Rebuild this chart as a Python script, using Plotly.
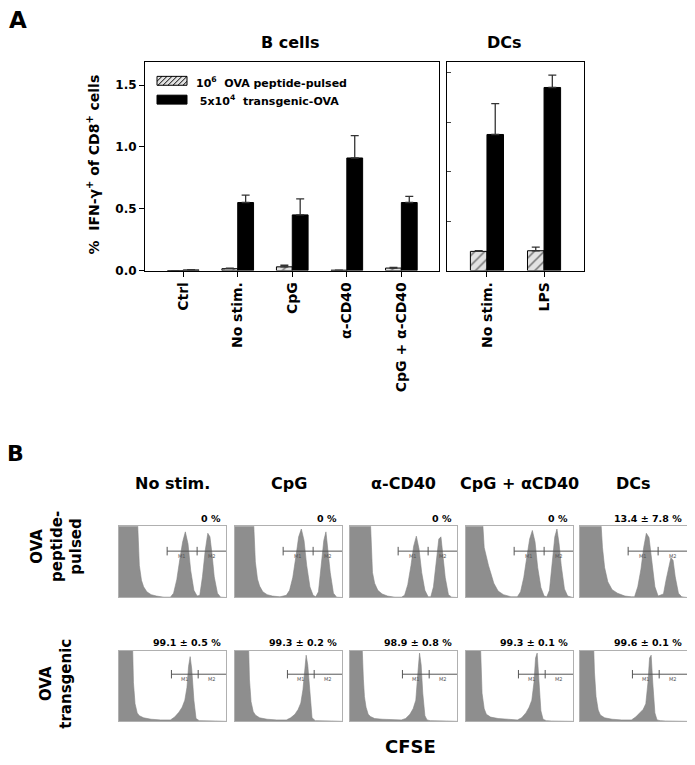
import plotly.graph_objects as go

# page body has an 8px margin: map reference pixels into the figure accordingly
OFF = 8
W, H = 695 - OFF, 765 - OFF
def X(p): return min(1.0, max(0.0, (p - OFF) / W))
def Y(p): return min(1.0, max(0.0, 1 - (p - OFF) / H))

FONT = "DejaVu Sans, Arial, sans-serif"

# ---------------- Panel A data ----------------
b_categories = ["Ctrl", "No stim.", "CpG", "α-CD40", "CpG + α-CD40"]
b_peptide = [0.0, 0.015, 0.03, 0.003, 0.02]
b_peptide_err = [0.0, 0.005, 0.013, 0.0, 0.005]
b_transgenic = [0.005, 0.55, 0.45, 0.91, 0.55]
b_transgenic_err = [0.002, 0.06, 0.13, 0.18, 0.05]

dc_categories = ["No stim.", "LPS"]
dc_peptide = [0.155, 0.16]
dc_peptide_err = [0.005, 0.03]
dc_transgenic = [1.10, 1.48]
dc_transgenic_err = [0.25, 0.10]

legend_labels = ["10<sup>6</sup>  OVA peptide-pulsed", " 5x10<sup>4</sup>  transgenic-OVA"]
y_ticks = [0.0, 0.5, 1.0, 1.5]
dc_y_ticks = [0.4, 0.8, 1.2, 1.6]

# ---------------- Panel B data ----------------
col_titles = ["No stim.", "CpG", "α-CD40", "CpG + αCD40", "DCs"]
row1_pct = ["0 %", "0 %", "0 %", "0 %", "13.4 ± 7.8 %"]
row2_pct = ["99.1 ± 0.5 %", "99.3 ± 0.2 %", "98.9 ± 0.8 %", "99.3 ± 0.1 %", "99.6 ± 0.1 %"]

hist_x_row1 = [0, 15, 17, 19, 21, 23, 26, 30, 35, 42, 48, 51, 54, 57, 59.5, 62, 64.5, 67, 70, 73,
               75.5, 78, 80.5, 83, 85, 87, 89, 92, 95, 100]
hist_r1_nostim = [120, 120, 120, 45, 24, 15, 8, 4, 2, 0.5, 0.5, 6, 25, 55, 78, 92, 75, 38, 10, 2,
                  3, 29, 65, 90, 85, 60, 29, 6, 0.5, 0]
hist_r1_cpg = [120, 120, 120, 50, 26, 16, 8, 4, 2, 1, 3, 10, 28, 58, 85, 96, 80, 45, 15, 3,
               1, 8, 40, 80, 92, 65, 35, 6, 0.5, 0]
hist_r1_cd40 = [120, 120, 120, 110, 35, 20, 10, 5, 2, 0.5, 0.5, 3, 18, 45, 72, 86, 68, 35, 10, 1,
                1, 15, 50, 82, 85, 55, 28, 4, 0.5, 0]
hist_r1_cpgcd40 = [120, 120, 70, 55, 45, 35, 20, 9, 4, 1, 1, 8, 28, 58, 82, 94, 78, 42, 14, 2,
                   1, 10, 45, 85, 96, 75, 45, 12, 2, 0]
hist_r1_dcs = [120, 120, 120, 120, 70, 42, 22, 11, 6, 2, 1, 1, 15, 40, 70, 90, 84, 50, 15, 2,
               3, 5, 25, 45, 56, 52, 29, 6, 1, 0]

hist_x_row2 = [0, 11, 12.5, 13.5, 15, 17, 19, 23, 30, 39, 48, 52, 56, 59, 61.5, 63.5, 65, 66.5, 68,
               70, 72, 75, 80, 90, 100]
hist_r2_nostim = [120, 120, 120, 55, 25, 12, 8, 5, 3, 2, 2, 6, 13, 20, 30, 48, 78, 92, 74,
                  30, 4, 1, 0.5, 0.5, 0]
hist_r2_cpg = [120, 120, 120, 60, 28, 14, 9, 5, 3, 2, 2, 5, 10, 17, 26, 45, 75, 94, 80,
               35, 5, 1, 0.5, 0.5, 0]
hist_r2_cd40 = [120, 120, 60, 35, 20, 10, 7, 4, 3, 2, 2, 4, 10, 18, 30, 70, 97, 80, 40,
                8, 2, 1, 0.5, 0.5, 0]
hist_r2_cpgcd40 = [120, 120, 120, 110, 40, 18, 10, 6, 4, 3, 2, 5, 12, 20, 30, 55, 90, 97, 60,
                   15, 3, 1, 0.5, 0.5, 0]
hist_r2_dcs = [120, 120, 120, 70, 35, 16, 9, 5, 3, 2, 2, 6, 12, 17, 25, 55, 90, 94, 55,
               12, 2, 1, 0.5, 0.5, 0]

row1_hists = [hist_r1_nostim, hist_r1_cpg, hist_r1_cd40, hist_r1_cpgcd40, hist_r1_dcs]
row2_hists = [hist_r2_nostim, hist_r2_cpg, hist_r2_cd40, hist_r2_cpgcd40, hist_r2_dcs]

# gate markers (x start, divider, y level) per row
gate_row1 = [45, 73, 65]
gate_row2 = [49, 74, 67]

# ---------------- Figure ----------------
fig = go.Figure()

HATCH = dict(shape="/", fgcolor="black", bgcolor="#e2e2e2", size=7, solidity=0.22)
err_style = dict(type="data", symmetric=False, color="#333333", thickness=1.3, width=4)

def add_bars(cats, pep, pep_err, tg, tg_err, xa, ya):
    fig.add_trace(go.Bar(x=cats, y=pep, xaxis=xa, yaxis=ya, showlegend=False,
                         marker=dict(color="#e2e2e2", pattern=HATCH, line=dict(color="black", width=1)),
                         error_y=dict(array=pep_err, arrayminus=[0] * len(pep), **err_style)))
    fig.add_trace(go.Bar(x=cats, y=tg, xaxis=xa, yaxis=ya, showlegend=False,
                         marker=dict(color="black", line=dict(color="black", width=1)),
                         error_y=dict(array=tg_err, arrayminus=[0] * len(tg), **err_style)))

add_bars(b_categories, b_peptide, b_peptide_err, b_transgenic, b_transgenic_err, "x", "y")
add_bars(dc_categories, dc_peptide, dc_peptide_err, dc_transgenic, dc_transgenic_err, "x2", "y2")

yA = [Y(273), Y(62)]
tickfont = dict(family=FONT, size=14, color="black", weight="bold")
layout = dict(
    width=W, height=H, margin=dict(l=0, r=0, t=0, b=0),
    paper_bgcolor="white", plot_bgcolor="white",
    barmode="group", bargap=0.42, bargroupgap=0,
    showlegend=False,
    xaxis=dict(domain=[X(145), X(439)], type="category", range=[-0.7, 4.69], anchor="y",
               tickangle=-90, ticks="outside", ticklen=5, tickcolor="black",
               showline=True, mirror=True, linecolor="black", linewidth=1,
               tickfont=tickfont, showgrid=False),
    yaxis=dict(domain=yA, range=[0, 1.69], anchor="x", tickvals=y_ticks,
               ticktext=[f"{v:.1f}" for v in y_ticks], ticks="outside", ticklen=5, tickcolor="black",
               showline=True, mirror=True, linecolor="black", linewidth=1, showgrid=False,
               zeroline=False, tickfont=dict(family=FONT, size=12, color="black", weight="bold")),
    xaxis2=dict(domain=[X(447), X(584)], type="category", range=[-0.7, 1.7], anchor="y2",
                tickangle=-90, ticks="outside", ticklen=5, tickcolor="black",
                showline=True, mirror=True, linecolor="black", linewidth=1,
                tickfont=tickfont, showgrid=False),
    yaxis2=dict(domain=yA, range=[0, 1.69], anchor="x2", tickvals=dc_y_ticks,
                ticks="inside", ticklen=4, tickcolor="#444", showticklabels=False,
                showline=True, mirror=True, linecolor="black", linewidth=1, showgrid=False,
                zeroline=False),
)

annotations = []
shapes = []

def ann(text, x, y, size, **kw):
    d = dict(text=text, x=X(x), y=Y(y), xref="paper", yref="paper", showarrow=False,
             xanchor="center", yanchor="middle",
             font=dict(family=FONT, size=size, color="black", weight="bold"))
    d.update(kw)
    annotations.append(d)

# Panel A labels
ann("A", 18, 20, 23)
ann("B cells", 290, 43, 16)
ann("DCs", 504, 43, 16)
ann("%  IFN-γ<sup>+</sup> of CD8<sup>+</sup> cells", 93, 166, 14, textangle=-90)

# manual legend
lx0, lx1 = 157, 187
ly = [(77, 86), (96, 105)]
shapes.append(dict(type="rect", xref="paper", yref="paper", x0=X(lx0), x1=X(lx1),
                   y0=Y(ly[0][1]), y1=Y(ly[0][0]), fillcolor="#e2e2e2", line=dict(color="black", width=1)))
hh = ly[0][1] - ly[0][0]
for s in range(lx0 - hh, lx1, 5):
    t0 = max(0, (lx0 - s) / hh)
    t1 = min(1, (lx1 - s) / hh)
    if t1 <= t0:
        continue
    shapes.append(dict(type="line", xref="paper", yref="paper",
                       x0=X(s + t0 * hh), y0=Y(ly[0][1] - t0 * hh),
                       x1=X(s + t1 * hh), y1=Y(ly[0][1] - t1 * hh),
                       line=dict(color="black", width=1)))
shapes.append(dict(type="rect", xref="paper", yref="paper", x0=X(lx0), x1=X(lx1),
                   y0=Y(ly[1][1]), y1=Y(ly[1][0]), fillcolor="black", line=dict(color="black", width=1)))
ann(legend_labels[0], 194, 83, 11, xanchor="left")
ann(legend_labels[1], 194, 101, 11, xanchor="left")

# Panel B
ann("B", 15, 458, 22)
col_x0 = [119, 235, 350, 466, 580]
box_w = 107
rows = [(531, 603, row1_hists, hist_x_row1, row1_pct, gate_row1, 523),
        (657, 728, row2_hists, hist_x_row2, row2_pct, gate_row2, 648)]

ax_i = 3
for (ytop, ybot, hists, hx, pcts, gate, pct_y) in rows:
    for c in range(5):
        xa, ya = f"x{ax_i}", f"y{ax_i}"
        fig.add_trace(go.Scatter(x=hx, y=hists[c], xaxis=xa, yaxis=ya, mode="lines",
                                 fill="tozeroy", fillcolor="#8e8e8e",
                                 line=dict(color="#848484", width=0.6), showlegend=False,
                                 hoverinfo="skip"))
        layout[f"xaxis{ax_i}"] = dict(domain=[X(col_x0[c]), X(col_x0[c] + box_w)], range=[0, 100],
                                      anchor=ya, showticklabels=False, ticks="", showgrid=False,
                                      zeroline=False, showline=True, mirror=True,
                                      linecolor="#b0b0b0", linewidth=1)
        layout[f"yaxis{ax_i}"] = dict(domain=[Y(ybot), Y(ytop)], range=[0, 100], anchor=xa,
                                      showticklabels=False, ticks="", showgrid=False,
                                      zeroline=False, showline=True, mirror=True,
                                      linecolor="#b0b0b0", linewidth=1)
        g0, g1, gy = gate
        gl = dict(color="#555555", width=1)
        shapes.append(dict(type="line", xref=xa, yref=ya, x0=g0, x1=100, y0=gy, y1=gy, line=gl))
        for gx in (g0, g1):
            shapes.append(dict(type="line", xref=xa, yref=ya, x0=gx, x1=gx, y0=gy - 6, y1=gy + 6, line=gl))
        for lab, lx in (("M1", (g0 + g1) / 2), ("M2", (g1 + 100) / 2)):
            annotations.append(dict(text=lab, x=lx, y=gy - 7, xref=xa, yref=ya, showarrow=False,
                                    xanchor="center", yanchor="middle",
                                    font=dict(family=FONT, size=5, color="#555")))
        ann(pcts[c], col_x0[c] + box_w - 3, pct_y, 9.5, xanchor="right")
        ax_i += 1

for c in range(5):
    ann(col_titles[c], col_x0[c] + box_w / 2, 488, 16)

ann("OVA<br>peptide-<br>pulsed", 57, 552, 15, textangle=-90)
ann("OVA<br>transgenic", 56, 690, 15, textangle=-90)
ann("CFSE", 410, 753, 18)

layout["annotations"] = annotations
layout["shapes"] = shapes
fig.update_layout(**layout)
fig.write_html("out.html")
